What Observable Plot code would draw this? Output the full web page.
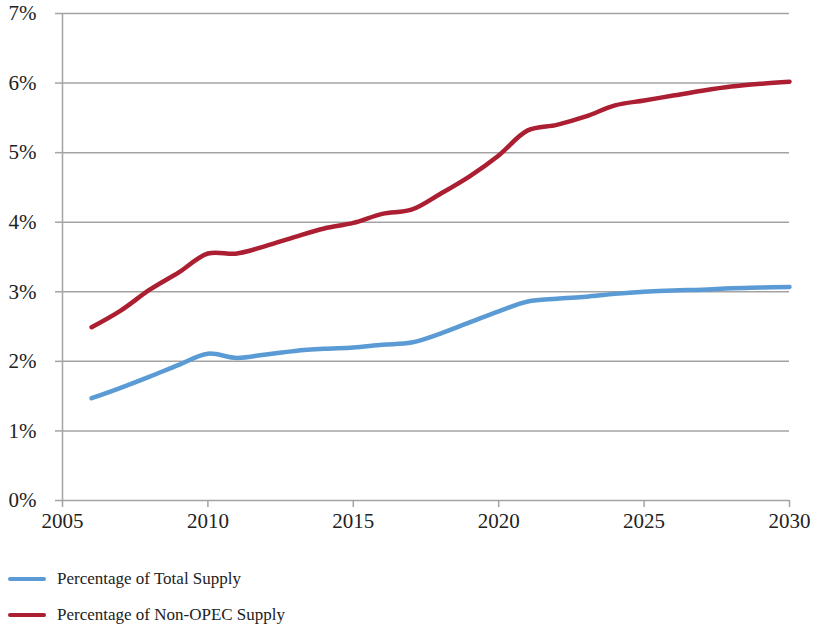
<!DOCTYPE html>
<html>
<head>
<meta charset="utf-8">
<script src="https://cdn.jsdelivr.net/npm/d3@7"></script>
<script src="https://cdn.jsdelivr.net/npm/@observablehq/plot@0.6"></script>
<style>
  body { margin: 0; background: #fff; font-family: "Liberation Serif", "DejaVu Serif", serif; color: #222; }
  #chart { position: absolute; left: 0; top: 0; }
  #chart svg, #chart svg text { font-family: "Liberation Serif", "DejaVu Serif", serif !important; }
  .legend { position: absolute; left: 0; font-size: 17px; color: #222; display: flex; align-items: center; }
  .legend .sw { display: inline-block; width: 38px; height: 4px; border-radius: 2px; margin-left: 8px; margin-right: 11px; }
</style>
</head>
<body>
<div id="chart"></div>
<div class="legend" style="top:569px"><span class="sw" style="background:#5b9bd5"></span>Percentage of Total Supply</div>
<div class="legend" style="top:605px"><span class="sw" style="background:#ac1f33"></span>Percentage of Non-OPEC Supply</div>
<script>
const years = [2006,2007,2008,2009,2010,2011,2012,2013,2014,2015,2016,2017,2018,2019,2020,2021,2022,2023,2024,2025,2026,2027,2028,2029,2030];
const totalSupply = [1.47,1.62,1.78,1.95,2.11,2.05,2.10,2.15,2.18,2.20,2.24,2.27,2.40,2.56,2.72,2.86,2.90,2.93,2.97,3.00,3.02,3.03,3.05,3.06,3.07];
const nonOpecSupply = [2.49,2.73,3.03,3.28,3.55,3.55,3.66,3.79,3.91,3.99,4.12,4.18,4.41,4.66,4.96,5.32,5.40,5.52,5.68,5.75,5.82,5.89,5.95,5.99,6.02];
const xTicks = [2005,2010,2015,2020,2025,2030];
const yTicks = [0,1,2,3,4,5,6,7];
const seriesNames = ["Percentage of Total Supply","Percentage of Non-OPEC Supply"];
const seriesColors = ["#5b9bd5","#ac1f33"];

const data = [];
years.forEach((y,i) => {
  data.push({year: y, value: totalSupply[i], series: seriesNames[0]});
  data.push({year: y, value: nonOpecSupply[i], series: seriesNames[1]});
});

const fam = "Liberation Serif, DejaVu Serif, serif";
const gridColor = "#a3a3a3";
const chart = Plot.plot({
  width: 814,
  height: 540,
  marginLeft: 62,
  marginRight: 25,
  marginTop: 13,
  marginBottom: 40,
  style: "font-family: 'Liberation Serif', 'DejaVu Serif', serif; font-size: 21px; color: #222; background: #fff;",
  x: {domain: [2005, 2030], ticks: xTicks, tickFormat: d => String(d), label: null},
  y: {domain: [0, 7], ticks: yTicks, tickFormat: d => d + "%", label: null},
  color: {domain: seriesNames, range: seriesColors},
  marks: [
    Plot.ruleY(yTicks, {stroke: gridColor, strokeWidth: 1.5, strokeOpacity: 1}),
    Plot.ruleX([2005], {stroke: gridColor, strokeWidth: 1.5}),
    Plot.axisY({ticks: yTicks, tickSize: 7, tickPadding: 19, stroke: gridColor, strokeWidth: 1.5, strokeOpacity: 1, fill: "#222", tickFormat: d => d + "%", fontSize: 21, fontFamily: fam, label: null}),
    Plot.axisX({ticks: xTicks, tickSize: 7, tickPadding: 6, stroke: gridColor, strokeWidth: 1.5, strokeOpacity: 1, fill: "#222", tickFormat: d => String(d), fontSize: 21, fontFamily: fam, label: null}),
    Plot.line(data, {x: "year", y: "value", z: "series", stroke: "series", strokeWidth: 4.5, curve: "catmull-rom", strokeLinecap: "round"})
  ]
});
document.getElementById("chart").appendChild(chart);
</script>
</body>
</html>
